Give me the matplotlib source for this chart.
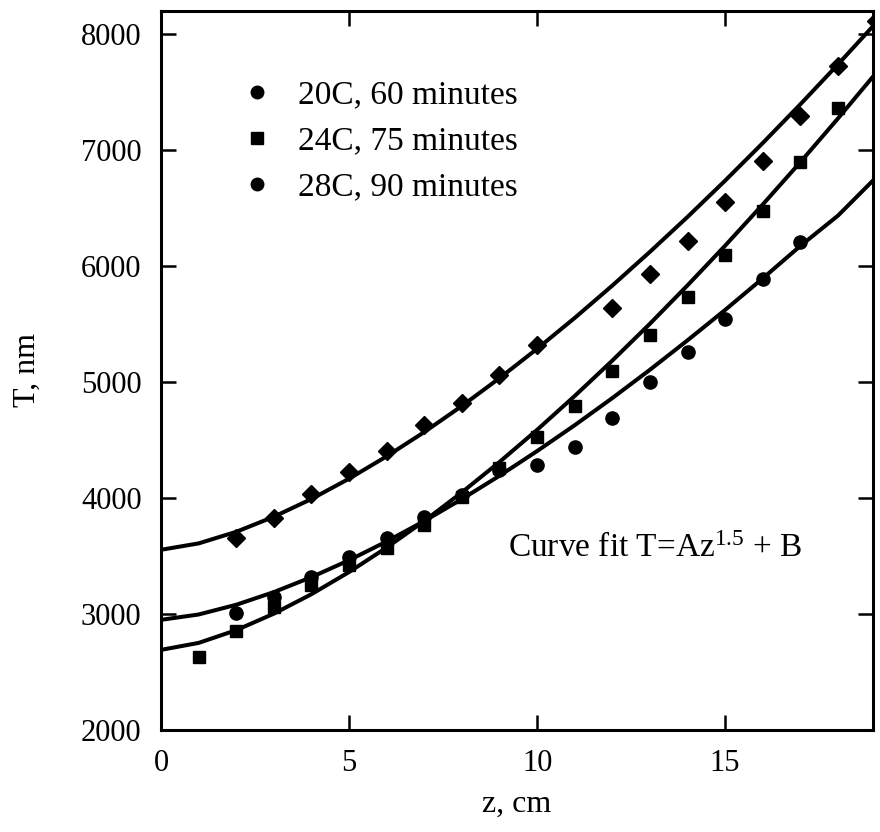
import matplotlib
matplotlib.use("Agg")
import matplotlib.pyplot as plt
from matplotlib.lines import Line2D

plt.rcParams['font.family'] = ['Liberation Serif', 'DejaVu Serif']
plt.rcParams['mathtext.fontset'] = 'custom'
plt.rcParams['mathtext.rm'] = 'Liberation Serif'
plt.rcParams['mathtext.default'] = 'regular'

# measured points
z20 = [2, 3, 4, 5, 6, 7, 8, 9, 10, 12, 13, 14, 15, 16, 17, 18, 19]
t20 = [3658, 3830, 4037, 4227, 4409, 4633, 4823, 5065, 5324, 5643, 5928, 6213, 6550, 6904, 7292, 7724, 8112]

z24 = [1, 2, 3, 4, 5, 6, 7, 8, 9, 10, 11, 12, 13, 14, 15, 16, 17, 18]
t24 = [2630, 2855, 3062, 3252, 3425, 3571, 3770, 4012, 4262, 4530, 4797, 5099, 5410, 5738, 6092, 6472, 6895, 7361]

z28 = [2, 3, 4, 5, 6, 7, 8, 9, 10, 11, 12, 13, 14, 15, 16, 17]
t28 = [3010, 3148, 3321, 3494, 3658, 3839, 4030, 4245, 4288, 4443, 4694, 5004, 5263, 5540, 5885, 6204]

# fit curves
zfit = list(range(20))
fit20 = [3554, 3609, 3709, 3839, 3992, 4167, 4360, 4569, 4794, 5034,
         5287, 5553, 5832, 6123, 6424, 6737, 7061, 7395, 7739, 8093]
fit24 = [2691, 2751, 2861, 3003, 3171, 3362, 3573, 3802, 4049, 4311,
         4588, 4880, 5185, 5503, 5834, 6176, 6531, 6896, 7273, 7660]
fit28 = [2950, 2996, 3080, 3189, 3318, 3464, 3626, 3802, 3991, 4192,
         4405, 4628, 4862, 5106, 5360, 5622, 5894, 6174, 6435, 6760]

labels = ["20C, 60 minutes", "24C, 75 minutes", "28C, 90 minutes"]

fig = plt.figure(figsize=(8.8, 8.32), dpi=100)
ax = fig.add_axes([0.183, 0.1226, 0.8085, 0.8642])

lw = 2.9
ax.plot(zfit, fit20, color='k', lw=lw)
ax.plot(zfit, fit24, color='k', lw=lw)
ax.plot(zfit, fit28, color='k', lw=lw)
ax.plot(z20, t20, 'D', color='k', ms=9)
ax.plot(z24, t24, 's', color='k', ms=9)
ax.plot(z28, t28, 'o', color='k', ms=9.5)

ax.set_xlim(0, 18.92)
ax.set_ylim(2000, 8200)
ax.set_xticks([0, 5, 10, 15])
ax.set_yticks(range(2000, 8001, 1000))
ax.tick_params(direction='in', length=11, width=1.8, labelsize=22,
               top=True, right=True, pad=14)
for s in ax.spines.values():
    s.set_linewidth(2.2)

ax.set_xlabel("z, cm", fontsize=23, labelpad=8)
ax.set_ylabel("T, nm", fontsize=23, labelpad=28)

ax.text(13.15, 3560, r"Curve fit T=Az$^{1.5}$ + B", fontsize=24,
        ha='center', va='center')

handles = [Line2D([], [], ls='none', marker='o', color='k', ms=9),
           Line2D([], [], ls='none', marker='s', color='k', ms=9),
           Line2D([], [], ls='none', marker='o', color='k', ms=9)]
ax.legend(handles, labels, loc='upper left', bbox_to_anchor=(0.111, 0.904),
          frameon=False, fontsize=24, handlelength=1.0, handletextpad=0.74,
          labelspacing=0.46, borderaxespad=0, borderpad=0)

fig.savefig("out.png", dpi=100)
